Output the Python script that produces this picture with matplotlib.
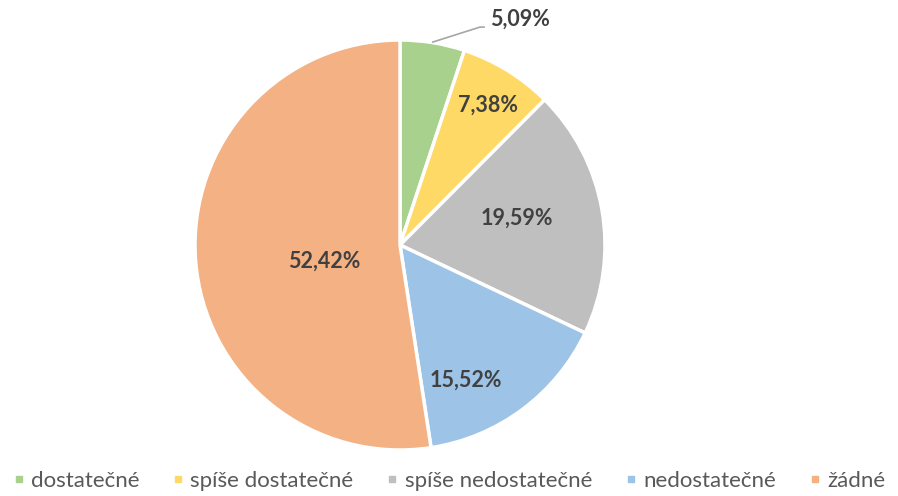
import matplotlib
matplotlib.use("Agg")
import matplotlib.pyplot as plt
from matplotlib.lines import Line2D

plt.rcParams['font.family'] = ['Lato', 'DejaVu Sans']

# data
categories = ['dostatečné', 'spíše dostatečné', 'spíše nedostatečné', 'nedostatečné', 'žádné']
values = [5.09, 7.38, 19.59, 15.52, 52.42]
colors = ['#A9D18E', '#FFD966', '#BFBFBF', '#9DC3E6', '#F4B183']
labels = ['5,09%', '7,38%', '19,59%', '15,52%', '52,42%']

# label positions in pie coords (radius 1)
label_pos = [(0.585, 1.10), (0.43, 0.68), (0.57, 0.13), (0.32, -0.66), (-0.37, -0.08)]

W, H = 898, 496
fig = plt.figure(figsize=(W / 100, H / 100), dpi=100)
cx, cy, r = 400, 245, 205
ax = fig.add_axes([(cx - r) / W, (H - cy - r) / H, 2 * r / W, 2 * r / H])

wedges, _ = ax.pie(values, colors=colors, startangle=90, counterclock=False,
                   radius=1, wedgeprops=dict(edgecolor='white', linewidth=2.5))
ax.set_xlim(-1, 1)
ax.set_ylim(-1, 1)
ax.set_aspect('auto')
ax.axis('off')

for i, (lx, ly) in enumerate(label_pos):
    ax.text(lx, ly, labels[i], ha='center', va='center', fontsize=15.5,
            fontweight='bold', color='#404040')

# leader line for the small slice
ax.plot([0.16, 0.39, 0.41], [0.99, 1.063, 1.063], color='#A6A6A6', lw=1.2,
        clip_on=False)

handles = [Line2D([0], [0], marker='s', linestyle='', markersize=5,
                  markerfacecolor=c, markeredgecolor=c) for c in colors]
fig.legend(handles, categories, loc='center', bbox_to_anchor=(0.5, (H - 481) / H),
           ncol=5, frameon=False, fontsize=16, handlelength=0.5,
           handletextpad=0.3, columnspacing=1.5, labelcolor='#595959')

fig.savefig('out.png', dpi=100)
